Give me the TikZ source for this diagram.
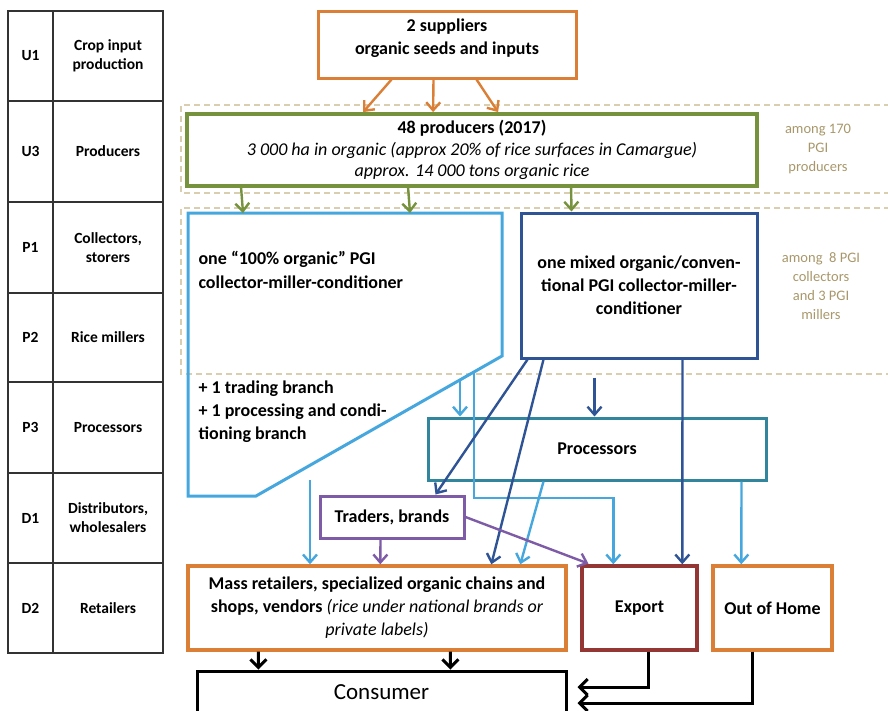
\documentclass[tikz,border=0pt]{standalone}
\usepackage{fontspec}
\setmainfont{Carlito}
\usetikzlibrary{arrows.meta,calc}
\definecolor{cOrange}{HTML}{DA7F35}
\definecolor{cGreen}{HTML}{76923C}
\definecolor{cLight}{HTML}{45A7DD}
\definecolor{cDark}{HTML}{2F5496}
\definecolor{cTeal}{HTML}{31859C}
\definecolor{cPurple}{HTML}{7D5BA6}
\definecolor{cRed}{HTML}{943634}
\definecolor{cBeige}{HTML}{D9CFB0}
\definecolor{cNote}{HTML}{A8976A}
\definecolor{cGrid}{HTML}{333333}
\begin{document}
\begin{tikzpicture}[x=1pt,y=-1pt,
  font=\fontsize{18}{23}\selectfont\bfseries,
  box/.style={draw, line width=3pt, inner sep=0pt, align=center},
  cell/.style={draw=cGrid, line width=1.8pt, inner sep=0pt, align=center,
    font=\fontsize{15.5}{19}\selectfont\bfseries},
  note/.style={text=cNote, align=center, font=\fontsize{14.5}{19}\selectfont},
  band/.style={draw=cBeige, line width=1.5pt, dash pattern=on 6pt off 4pt},
  arr/.style={line width=2.4pt, -{Straight Barb[length=8pt,width=14pt]}},
  bigarr/.style={line width=3pt, -{Straight Barb[length=8pt,width=16pt]}}]
\useasboundingbox (0,0) rectangle (888,710);

% stage table on the left
\foreach \code/\lab/\top/\bot in {U1/{Crop input\\production}/11/101,
    U3/Producers/101/202, P1/{Collectors,\\storers}/202/293,
    P2/Rice millers/293/382, P3/Processors/382/473,
    D1/{Distributors,\\wholesalers}/473/563, D2/Retailers/563/653}{
  \pgfmathsetmacro{\mid}{(\top+\bot)/2}
  \pgfmathsetmacro{\hgt}{\bot-\top}
  \node[cell, minimum width=45pt, minimum height=\hgt pt] (c\code) at (30.5,\mid) {\code};
  \node[cell, minimum width=110pt, minimum height=\hgt pt] (l\code) at (108,\mid) {\lab};
}

% dashed bands
\draw[band] (890,105) -- (181,105) -- (181,193) -- (890,193);
\draw[band] (890,208) -- (181,208) -- (181,374) -- (890,374);

% notes
\node[note] (n1) at (818,149) {among 170\\PGI\\producers};
\node[note] (n2) at (821,286) {among\ \ 8 PGI\\collectors\\and 3 PGI\\millers};

% boxes
\node[box, draw=cOrange, minimum width=258pt, minimum height=67pt] (sup) at (447,44.5) {};
\node[align=center] (supT) at (447,38) {2 suppliers\\organic seeds and inputs};
\node[box, draw=cGreen, line width=3.8pt, minimum width=570pt, minimum height=72pt,
  font=\fontsize{18}{21.5}\selectfont\bfseries] (prod) at (472,150)
  {48 producers (2017)\\
   {\normalfont\itshape 3 000 ha in organic (approx 20\% of rice surfaces in Camargue)}\\
   {\normalfont\itshape approx. 14 000 tons organic rice}};

\coordinate (oNW) at (188,213);
\coordinate (oNE) at (502,213);
\coordinate (oE) at (502,356);
\coordinate (oS) at (256,496);
\coordinate (oSW) at (188,496);
\draw[cLight, line width=3pt] (oNW) -- (oNE) -- (oE) -- (oS) -- (oSW) -- cycle;
\node[anchor=west, align=left, font=\fontsize{18}{24}\selectfont\bfseries] (orgtop) at (195,270)
  {one “100\% organic” PGI\\collector-miller-conditioner};
\node[anchor=west, align=left] (orgbot) at (195,412)
  {+ 1 trading branch\\+ 1 processing and condi-\\tioning branch};

\node[box, draw=cDark, minimum width=236pt, minimum height=145pt] (mix) at (639,285.5)
  {one mixed organic/conven-\\tional PGI collector-miller-\\conditioner};
\node[box, draw=cTeal, minimum width=338pt, minimum height=62pt] (proc) at (597,449) {Processors};
\node[box, draw=cPurple, minimum width=144pt, minimum height=42pt] (trad) at (392,517) {Traders, brands};
\node[box, draw=cOrange, line width=3.4pt, minimum width=378pt, minimum height=84pt] (ret) at (377,608)
  {Mass retailers, specialized organic chains and\\
   shops, vendors {\normalfont\itshape (rice under national brands or}\\
   {\normalfont\itshape private labels)}};
\node[box, draw=cRed, line width=3.4pt, minimum width=115pt, minimum height=84pt] (exp) at (639.5,608) {Export};
\node[box, draw=cOrange, line width=3.4pt, minimum width=119pt, minimum height=84pt] (ooh) at (772.5,608) {Out of Home};
\node[box, draw=black, minimum width=369pt, minimum height=42pt,
  font=\fontsize{23}{26}\selectfont] (cons) at (381.5,692) {Consumer};

% suppliers to producers
\draw[arr, cOrange] ([xshift=75]sup.south west) -- ([xshift=178]prod.north west);
\draw[arr, cOrange] ([xshift=117]sup.south west) -- ([xshift=248]prod.north west);
\draw[arr, cOrange] ([xshift=160]sup.south west) -- ([xshift=313]prod.north west);

% producers to collectors
\draw[arr, cGreen] ([xshift=56]prod.south west) -- ([xshift=55]oNW);
\draw[arr, cGreen] ([xshift=223]prod.south west) -- ([xshift=222]oNW);
\draw[arr, cGreen] ([xshift=386]prod.south west) -- ([xshift=52]mix.north west);

% flows of the 100% organic operator
\coordinate (d1) at ($(oE)!0.1707!(oS)$);
\coordinate (d2) at ($(oE)!0.1138!(oS)$);
\coordinate (d3) at ($(oE)!0.7805!(oS)$);
\coordinate (bend) at ([xshift=33]exp.north west |- 0,498);
\draw[arr, cLight] (d1) -- (d1 |- proc.north);
\draw[arr, cLight] (d2) |- (bend) -- (bend |- exp.north);
\draw[arr, cLight, shorten <=15pt] (d3) -- (d3 |- ret.north);
\draw[arr, cLight] ([xshift=117]proc.south west) -- ([xshift=334]ret.north west);
\draw[arr, cLight] ([xshift=315]proc.south west) -- ([xshift=30]ooh.north west);

% flows of the mixed operator
\draw[arr, cDark] ([xshift=8]mix.south west) -- ([xshift=117]trad.north west);
\draw[arr, cDark] ([xshift=24]mix.south west) -- ([xshift=305]ret.north west);
\draw[arr, cDark, shorten <=18pt] ([xshift=75]mix.south west) -- ([xshift=168]proc.north west);
\draw[arr, cDark] ([xshift=163]mix.south west) -- ([xshift=102]exp.north west);

% traders
\draw[arr, cPurple] ([xshift=62]trad.south west) -- ([xshift=194]ret.north west);
\draw[arr, cPurple, shorten >=2pt] (trad.east) -- ([xshift=10]exp.north west);

% to the consumer
\draw[bigarr] ([xshift=72]ret.south west) -- ([xshift=63]cons.north west);
\draw[bigarr] ([xshift=264]ret.south west) -- ([xshift=255]cons.north west);
\draw[bigarr, shorten >=10pt] ([xshift=68]exp.south west) |- ([yshift=5]cons.east);
\draw[bigarr, shorten >=10pt] ([xshift=41]ooh.south west) |- ([yshift=-11]cons.east);
\end{tikzpicture}
\end{document}
